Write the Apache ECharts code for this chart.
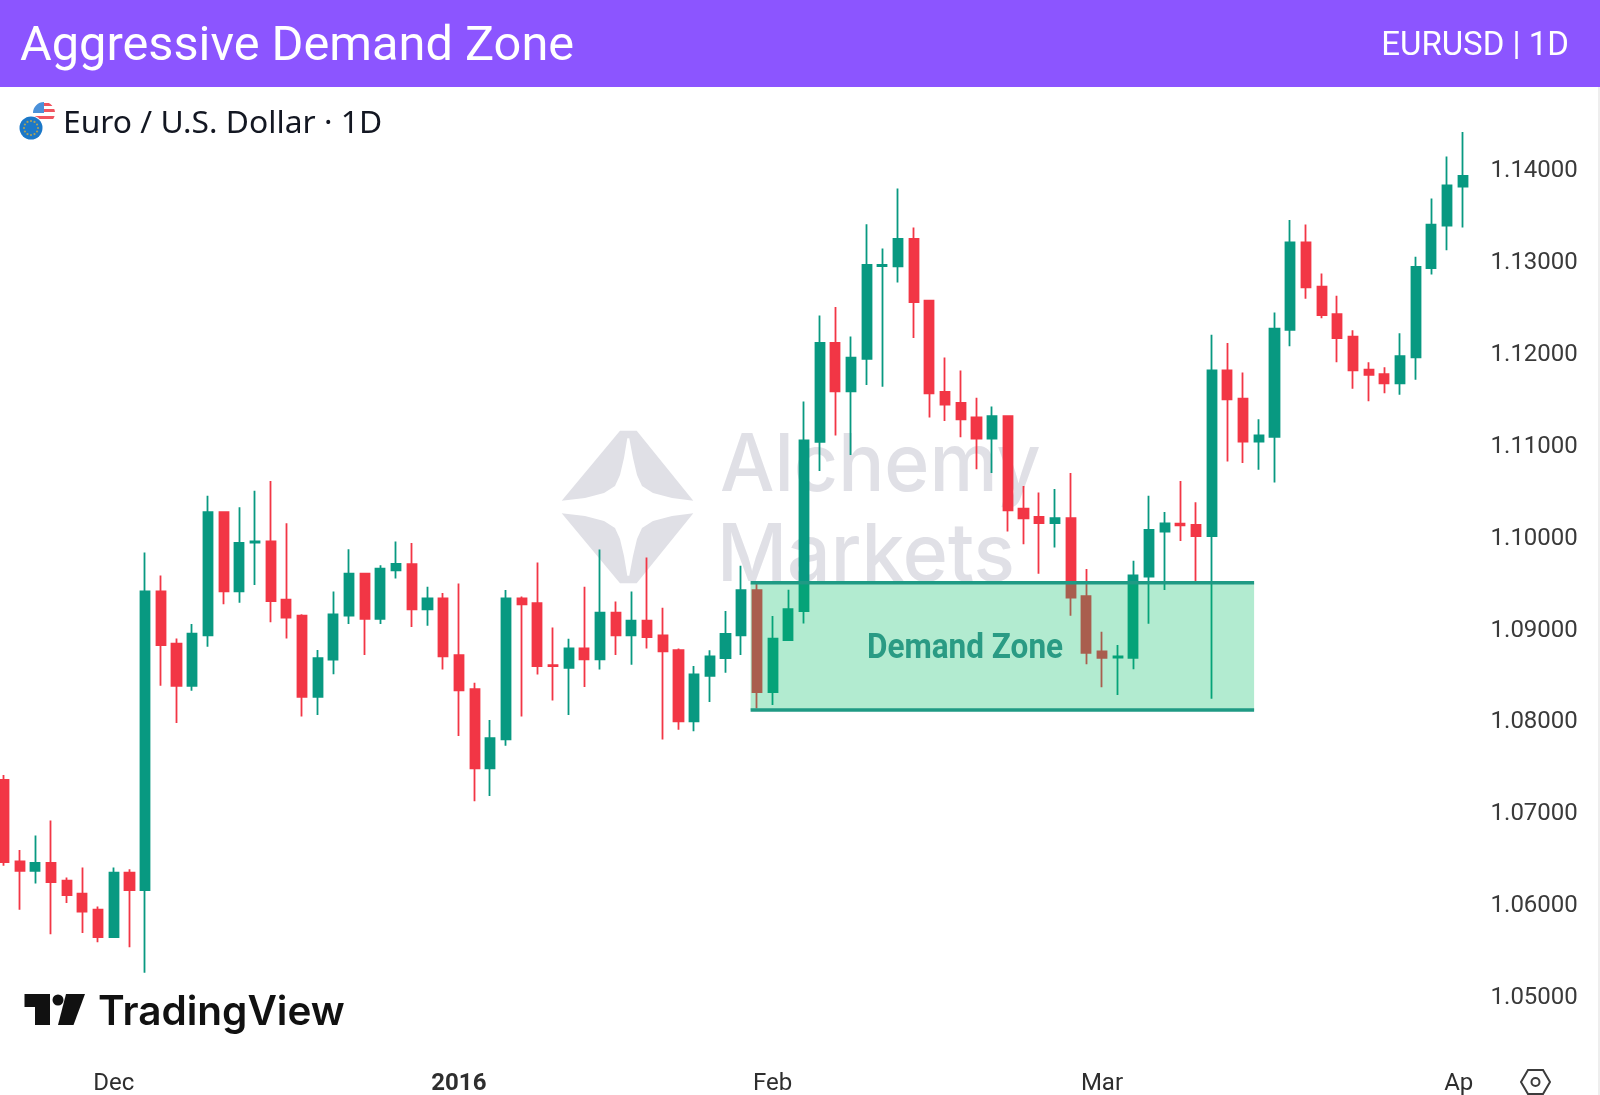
<!DOCTYPE html>
<html>
<head>
<meta charset="utf-8">
<title>Aggressive Demand Zone</title>
<script src="https://cdn.jsdelivr.net/npm/echarts@6/dist/echarts.min.js"></script>
<style>
	html, body { margin: 0; padding: 0; background: #fff; }
	#chart { width: 1600px; height: 1095px; }
</style>
</head>
<body>
<div id="chart"></div>
<script>
// EURUSD daily bars
var dates = [
	'2015-11-20',
	'2015-11-23', '2015-11-24', '2015-11-25', '2015-11-26', '2015-11-27', '2015-11-30',
	'2015-12-01', '2015-12-02', '2015-12-03', '2015-12-04',
	'2015-12-07', '2015-12-08', '2015-12-09', '2015-12-10', '2015-12-11',
	'2015-12-14', '2015-12-15', '2015-12-16', '2015-12-17', '2015-12-18',
	'2015-12-21', '2015-12-22', '2015-12-23', '2015-12-24',
	'2015-12-28', '2015-12-29', '2015-12-30', '2015-12-31',
	'2016-01-04', '2016-01-05', '2016-01-06', '2016-01-07', '2016-01-08',
	'2016-01-11', '2016-01-12', '2016-01-13', '2016-01-14', '2016-01-15',
	'2016-01-18', '2016-01-19', '2016-01-20', '2016-01-21', '2016-01-22',
	'2016-01-25', '2016-01-26', '2016-01-27', '2016-01-28', '2016-01-29',
	'2016-02-01', '2016-02-02', '2016-02-03', '2016-02-04', '2016-02-05',
	'2016-02-08', '2016-02-09', '2016-02-10', '2016-02-11', '2016-02-12',
	'2016-02-15', '2016-02-16', '2016-02-17', '2016-02-18', '2016-02-19',
	'2016-02-22', '2016-02-23', '2016-02-24', '2016-02-25', '2016-02-26',
	'2016-02-29',
	'2016-03-01', '2016-03-02', '2016-03-03', '2016-03-04',
	'2016-03-07', '2016-03-08', '2016-03-09', '2016-03-10', '2016-03-11',
	'2016-03-14', '2016-03-15', '2016-03-16', '2016-03-17', '2016-03-18',
	'2016-03-21', '2016-03-22', '2016-03-23', '2016-03-24', '2016-03-25',
	'2016-03-28', '2016-03-29', '2016-03-30', '2016-03-31',
	'2016-04-01'
];
var opens = [
	1.07341, 1.06454, 1.06353, 1.06438, 1.06244, 1.06104, 1.05929, 1.05630, 1.06333, 1.06143,
	1.09394, 1.08826, 1.08367, 1.08916, 1.10257, 1.09394, 1.09927, 1.09939, 1.09305, 1.09130,
	1.08247, 1.08651, 1.09130, 1.09589, 1.09095, 1.09624, 1.09692, 1.09198, 1.09318, 1.08701,
	1.08331, 1.07467, 1.07783, 1.09318, 1.09267, 1.08592, 1.08563, 1.08774, 1.08654, 1.09162,
	1.08915, 1.09075, 1.08915, 1.08755, 1.07979, 1.08476, 1.08668, 1.08915, 1.09409, 1.08298,
	1.08865, 1.09180, 1.11023, 1.12101, 1.11572, 1.11926, 1.12937, 1.12933, 1.13232, 1.12560,
	1.11568, 1.11447, 1.11288, 1.11058, 1.11304, 1.10296, 1.10207, 1.10137, 1.10191, 1.09343,
	1.08741, 1.08675, 1.08671, 1.09556, 1.10047, 1.10131, 1.10118, 1.09997, 1.11802, 1.11493,
	1.11027, 1.11077, 1.12243, 1.13194, 1.12714, 1.12414, 1.12169, 1.11810, 1.11760, 1.11660,
	1.11943, 1.12914, 1.13377, 1.13802
];
var closes = [
	1.06446, 1.06353, 1.06438, 1.06228, 1.06088, 1.05909, 1.05630, 1.06333, 1.06143, 1.09394,
	1.08811, 1.08367, 1.08935, 1.10257, 1.09394, 1.09923, 1.09939, 1.09289, 1.09110, 1.08247,
	1.08667, 1.09145, 1.09589, 1.09095, 1.09643, 1.09694, 1.09198, 1.09318, 1.08687, 1.08316,
	1.07467, 1.07797, 1.09318, 1.09253, 1.08581, 1.08581, 1.08774, 1.08654, 1.09162, 1.08915,
	1.09075, 1.08897, 1.08741, 1.07979, 1.08491, 1.08687, 1.08933, 1.09409, 1.08298, 1.08879,
	1.09200, 1.11039, 1.12101, 1.11572, 1.11941, 1.12949, 1.12949, 1.13232, 1.12544, 1.11552,
	1.11428, 1.11268, 1.11058, 1.11304, 1.10277, 1.10191, 1.10137, 1.10191, 1.09328, 1.08725,
	1.08671, 1.08686, 1.09569, 1.10064, 1.10135, 1.10114, 1.09997, 1.11802, 1.11485, 1.11027,
	1.11093, 1.12256, 1.13194, 1.12706, 1.12402, 1.12152, 1.11802, 1.11752, 1.11660, 1.11956,
	1.12927, 1.13389, 1.13814, 1.13919
];
var lows = [
	1.06407, 1.05929, 1.06213, 1.05661, 1.06003, 1.05676, 1.05575, 1.05625, 1.05521, 1.05241,
	1.08367, 1.07963, 1.08313, 1.08791, 1.09254, 1.09270, 1.09464, 1.09060, 1.08881, 1.08033,
	1.08048, 1.08492, 1.09040, 1.08702, 1.09040, 1.09534, 1.09006, 1.09020, 1.08545, 1.07819,
	1.07111, 1.07166, 1.07714, 1.08033, 1.08491, 1.08207, 1.08048, 1.08353, 1.08545, 1.08701,
	1.08596, 1.08774, 1.07783, 1.07888, 1.07873, 1.08189, 1.08509, 1.08701, 1.08120, 1.08157,
	1.08865, 1.09044, 1.10705, 1.11093, 1.10880, 1.11642, 1.11622, 1.12758, 1.12155, 1.11288,
	1.11249, 1.11074, 1.10724, 1.10685, 1.10047, 1.09907, 1.09588, 1.09872, 1.09130, 1.08601,
	1.08352, 1.08266, 1.08546, 1.09043, 1.09410, 1.09943, 1.09485, 1.08227, 1.10810, 1.10793,
	1.10718, 1.10581, 1.12064, 1.12581, 1.12368, 1.11889, 1.11602, 1.11464, 1.11552, 1.11535,
	1.11698, 1.12844, 1.13110, 1.13356
];
var highs = [
	1.07395, 1.06578, 1.06738, 1.06901, 1.06279, 1.06388, 1.05964, 1.06388, 1.06368, 1.09818,
	1.09569, 1.08881, 1.09040, 1.10436, 1.10262, 1.10312, 1.10491, 1.10596, 1.10137, 1.09145,
	1.08756, 1.09394, 1.09853, 1.09589, 1.09678, 1.09939, 1.09921, 1.09445, 1.09376, 1.09481,
	1.08400, 1.07993, 1.09409, 1.09340, 1.09710, 1.09002, 1.08879, 1.09445, 1.09852, 1.09285,
	1.09394, 1.09765, 1.09217, 1.08774, 1.08581, 1.08755, 1.09180, 1.09674, 1.09500, 1.09126,
	1.09413, 1.11463, 1.12400, 1.12490, 1.12171, 1.13392, 1.13127, 1.13781, 1.13357, 1.12565,
	1.11941, 1.11801, 1.11502, 1.11408, 1.11310, 1.10541, 1.10471, 1.10510, 1.10685, 1.09639,
	1.08955, 1.08811, 1.09728, 1.10435, 1.10260, 1.10598, 1.10364, 1.12189, 1.12098, 1.11777,
	1.11268, 1.12431, 1.13439, 1.13389, 1.12856, 1.12614, 1.12239, 1.11889, 1.11835, 1.12206,
	1.13039, 1.13673, 1.14131, 1.14398
];

// time axis labels: bar index and the text shown
var monthBars = [7, 29, 49, 70, 93];
var monthLabels = ['Dec', '2016', 'Feb', 'Mar', 'Ap'];

// price axis
var priceMin = 1.05;
var priceMax = 1.15;
var priceStep = 0.01;

// demand zone, in bars and price
var zoneBars = [47.6, 79.7];
var zonePrices = [1.09489, 1.08103];

var GREEN = '#089981', RED = '#F23645';
var WATERMARK = '#E0E0E6';

function headerGraphics() {
	return [ {
		type : 'rect',
		shape : { x : 0, y : 0, width : 1600, height : 87 },
		style : { fill : '#8C55FF' }
	}, {
		type : 'text',
		style : {
			text : 'Aggressive Demand Zone',
			x : 20,
			y : 48,
			font : '400 48.7px Roboto',
			fill : '#fff',
			textVerticalAlign : 'middle'
		}
	}, {
		type : 'text',
		style : {
			text : 'EURUSD | 1D',
			x : 1569,
			y : 47,
			font : '400 33px Roboto',
			fill : '#fff',
			textAlign : 'right',
			textVerticalAlign : 'middle'
		}
	}, {
		type : 'rect',
		shape : { x : 1598, y : 87, width : 2, height : 1008 },
		style : { fill : '#EEEEEE' }
	} ];
}

// the little pair of flags beside the symbol name
function flagGraphics() {
	var list = [ {
		type : 'circle',
		shape : { cx : 44, cy : 113, r : 11 },
		style : { fill : '#fff' }
	}, {
		type : 'rect',
		shape : { x : 32, y : 101, width : 12, height : 12 },
		style : { fill : '#4A90D9' }
	}, {
		type : 'rect',
		shape : { x : 44, y : 103, width : 12, height : 3 },
		style : { fill : '#F0545F' }
	}, {
		type : 'rect',
		shape : { x : 44, y : 109, width : 12, height : 3 },
		style : { fill : '#F0545F' }
	}, {
		type : 'rect',
		shape : { x : 34, y : 116, width : 22, height : 3 },
		style : { fill : '#F0545F' }
	}, {
		// white ring rounds off the flag corners
		type : 'circle',
		shape : { cx : 44, cy : 113, r : 15 },
		style : { fill : 'none', stroke : '#fff', lineWidth : 8 }
	}, {
		type : 'circle',
		shape : { cx : 31, cy : 128, r : 12.5 },
		style : { fill : '#fff' }
	}, {
		type : 'circle',
		shape : { cx : 31, cy : 128, r : 11.5 },
		style : { fill : '#1B78C8' }
	} ];
	for (var i = 0; i < 12; i++) {
		var a = i * Math.PI / 6;
		list.push({
			type : 'circle',
			shape : { cx : 31 + 7 * Math.cos(a), cy : 128 + 7 * Math.sin(a), r : 1.1 },
			style : { fill : '#A9A15A' }
		});
	}
	list.push({
		type : 'text',
		x : 63,
		y : 124,
		scaleX : 1.06,
		style : {
			text : 'Euro / U.S. Dollar · 1D',
			x : 0,
			y : 0,
			font : '30px "Noto Sans"',
			fill : '#131722',
			textVerticalAlign : 'middle'
		}
	});
	return list;
}

function watermarkGraphics() {
	var upper = [ [620, 430.7], [561.7, 500.7], [585, 498], [604, 493], [615, 486], [620, 475], [624, 458],
		[627.3, 438.3], [629.3, 438.3], [633, 458], [637, 475], [642, 486], [653, 493], [672, 498],
		[693.3, 500.7], [636.7, 430.7] ];
	// lower half of the star mirrors the upper one
	var lower = upper.map(function(p) {
		return [ p[0], 1014 - p[1] ];
	});
	return [ {
		type : 'polygon',
		shape : { points : upper },
		style : { fill : WATERMARK }
	}, {
		type : 'polygon',
		shape : { points : lower },
		style : { fill : WATERMARK }
	}, {
		type : 'text',
		x : 720,
		y : 507,
		scaleX : 0.96,
		style : {
			text : 'Alchemy',
			x : 0,
			y : 0,
			font : '500 80px Inter',
			fill : WATERMARK,
			textVerticalAlign : 'bottom'
		}
	}, {
		type : 'text',
		x : 717,
		y : 597,
		scaleX : 0.96,
		style : {
			text : 'Markets',
			x : 0,
			y : 0,
			font : '500 80px Inter',
			fill : WATERMARK,
			textVerticalAlign : 'bottom'
		}
	} ];
}

function brandGraphics() {
	return [ {
		type : 'polygon',
		shape : { points : [ [24.5, 994], [50, 994], [50, 1025], [35, 1025], [35, 1007], [24.5, 1007] ] },
		style : { fill : '#111' }
	}, {
		type : 'circle',
		shape : { cx : 58, cy : 1000, r : 5.5 },
		style : { fill : '#111' }
	}, {
		type : 'polygon',
		shape : { points : [ [66, 994], [85, 994], [73.5, 1025], [58, 1025] ] },
		style : { fill : '#111' }
	}, {
		type : 'text',
		style : {
			text : 'TradingView',
			x : 98,
			y : 1013,
			font : '600 40.5px Inter',
			fill : '#111',
			textVerticalAlign : 'middle'
		}
	}, {
		type : 'polygon',
		shape : { points : [ [1521, 1082], [1528, 1070], [1543, 1070], [1550, 1082], [1543, 1094], [1528, 1094] ] },
		style : { fill : 'none', stroke : '#3c3c3c', lineWidth : 2 }
	}, {
		type : 'circle',
		shape : { cx : 1535.5, cy : 1082, r : 4 },
		style : { fill : 'none', stroke : '#3c3c3c', lineWidth : 2 }
	} ];
}

function zoneLabel() {
	return {
		type : 'text',
		z : 10,
		x : 965,
		y : 649,
		scaleX : 0.9,
		style : {
			text : 'Demand Zone',
			x : 0,
			y : 0,
			font : 'bold 35px Roboto',
			fill : '#2A9B84',
			textAlign : 'center',
			textVerticalAlign : 'middle'
		}
	};
}

function renderZone(params, api) {
	var lt = api.coord([ api.value(0), api.value(2) ]);
	var rb = api.coord([ api.value(1), api.value(3) ]);
	var lineStyle = { stroke : '#1F9A84', lineWidth : 3.6, fill : 'none' };
	return {
		type : 'group',
		children : [ {
			type : 'rect',
			shape : { x : lt[0], y : lt[1], width : rb[0] - lt[0], height : rb[1] - lt[1] },
			style : { fill : 'rgba(0,188,98,0.3)' }
		}, {
			type : 'line',
			shape : { x1 : lt[0], y1 : lt[1], x2 : rb[0], y2 : lt[1] },
			style : lineStyle
		}, {
			type : 'line',
			shape : { x1 : lt[0], y1 : rb[1], x2 : rb[0], y2 : rb[1] },
			style : lineStyle
		} ]
	};
}

function drawChart() {
	var myChart = echarts.init(document.getElementById('chart'));
	var bars = [];
	for (var i = 0; i < dates.length; i++) {
		bars.push([ opens[i], closes[i], lows[i], highs[i] ]);
	}

	var option = {
		animation : false,
		backgroundColor : '#fff',
		grid : { left : -3.84, top : 76.6, width : 1474.4, height : 918.4, outerBoundsMode : 'none' },
		xAxis : [ {
			type : 'category',
			data : dates,
			boundaryGap : true,
			axisLine : { show : false },
			axisTick : { show : false },
			splitLine : { show : false },
			axisLabel : {
				interval : function(index) {
					return monthBars.indexOf(index) >= 0;
				},
				formatter : function(value, index) {
					var label = monthLabels[monthBars.indexOf(index)];
					if (label === '2016') {
						return '{year|' + label + '}';
					}
					return label === 'Ap' ? '{cut|' + label + '}' : label;
				},
				hideOverlap : false,
				margin : 77,
				color : '#2e2e2e',
				fontFamily : 'Roboto',
				fontSize : 24,
				rich : {
					year : { color : '#2e2e2e', fontFamily : 'Roboto', fontSize : 24, fontWeight : 'bold' },
					cut : { color : '#2e2e2e', fontFamily : 'Roboto', fontSize : 24, padding : [ 0, 8, 0, 0 ] }
				}
			}
		}, {
			type : 'value',
			show : false,
			min : -0.5,
			max : dates.length - 0.5
		} ],
		yAxis : {
			type : 'value',
			position : 'right',
			min : priceMin,
			max : priceMax,
			interval : priceStep,
			axisLine : { show : false },
			axisTick : { show : false },
			splitLine : { show : false },
			axisLabel : {
				margin : 20,
				color : '#3a3a3a',
				fontFamily : 'Roboto',
				fontSize : 24,
				rich : {
					price : { color : '#3a3a3a', fontFamily : 'Roboto', fontSize : 24, padding : [ 6, 0, 0, 0 ] }
				},
				formatter : function(value) {
					return value > 1.145 ? '' : '{price|' + value.toFixed(5) + '}';
				}
			}
		},
		series : [ {
			type : 'candlestick',
			data : bars,
			barWidth : 9.6,
			z : 2,
			itemStyle : {
				color : GREEN,
				color0 : RED,
				borderColor : GREEN,
				borderColor0 : RED,
				borderWidth : 1.8
			}
		}, {
			type : 'custom',
			xAxisIndex : 1,
			yAxisIndex : 0,
			z : 5,
			silent : true,
			clip : false,
			encode : { x : [ 0, 1 ], y : [ 2, 3 ] },
			data : [ [ zoneBars[0], zoneBars[1], zonePrices[0], zonePrices[1] ] ],
			renderItem : renderZone
		} ],
		graphic : {
			elements : watermarkGraphics()
				.concat(headerGraphics())
				.concat(flagGraphics())
				.concat(brandGraphics())
				.concat([ zoneLabel() ])
		}
	};
	myChart.setOption(option);
}
drawChart();
</script>
</body>
</html>
